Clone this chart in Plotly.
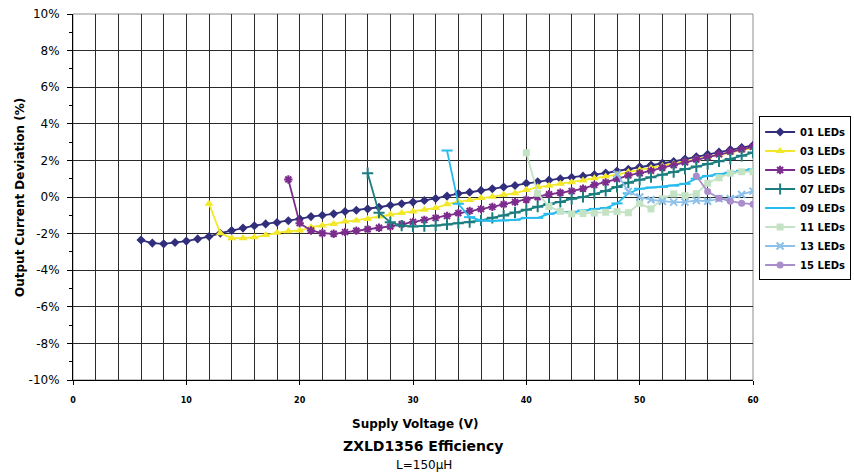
import plotly.graph_objects as go

# Output current deviation (%) versus supply voltage (V) for each LED string length
v01 = list(range(6, 61))
dev01 = [-2.35, -2.52, -2.56, -2.49, -2.41, -2.29, -2.16, -1.98, -1.83, -1.70,
         -1.57, -1.47, -1.39, -1.30, -1.19, -1.07, -1.00, -0.92, -0.79, -0.72,
         -0.65, -0.56, -0.45, -0.37, -0.28, -0.19, -0.08, 0.05, 0.19, 0.26,
         0.36, 0.45, 0.55, 0.63, 0.75, 0.83, 0.92, 1.00, 1.07, 1.14,
         1.22, 1.31, 1.42, 1.52, 1.65, 1.75, 1.85, 1.94, 2.07, 2.20,
         2.33, 2.46, 2.59, 2.70, 2.82]

v03 = list(range(12, 61))
dev03 = [-0.37, -1.98, -2.25, -2.25, -2.20, -2.07, -1.96, -1.87, -1.83, -1.65,
         -1.56, -1.47, -1.34, -1.28, -1.20, -1.07, -0.96, -0.88, -0.79, -0.70,
         -0.60, -0.40, -0.25, -0.17, -0.06, 0.02, 0.12, 0.21, 0.38, 0.54,
         0.62, 0.72, 0.80, 0.90, 1.02, 1.12, 1.22, 1.36, 1.48, 1.58,
         1.70, 1.80, 1.95, 2.08, 2.18, 2.30, 2.43, 2.56, 2.68]

v05 = list(range(19, 61))
dev05 = [0.96, -1.43, -1.83, -1.98, -2.01, -1.92, -1.84, -1.76, -1.68, -1.61,
         -1.49, -1.36, -1.25, -1.14, -1.04, -0.88, -0.76, -0.66, -0.54, -0.40,
         -0.27, -0.15, -0.01, 0.15, 0.23, 0.32, 0.45, 0.66, 0.80, 0.98,
         1.18, 1.30, 1.43, 1.60, 1.74, 1.90, 2.05, 2.18, 2.33, 2.48,
         2.60, 2.74]

v07 = list(range(26, 61))
dev07 = [1.30, -0.86, -1.38, -1.56, -1.61, -1.59, -1.56, -1.50, -1.43, -1.38,
         -1.28, -1.14, -1.01, -0.85, -0.70, -0.53, -0.38, -0.27, -0.10, 0.00,
         0.17, 0.33, 0.55, 0.78, 0.94, 1.08, 1.21, 1.36, 1.53, 1.66,
         1.80, 1.95, 2.08, 2.25, 2.43]

v09 = list(range(33, 61))
dev09 = [2.54, -0.37, -1.10, -1.28, -1.30, -1.28, -1.25, -1.14, -1.14, -0.92,
         -0.83, -0.83, -0.74, -0.65, -0.60, -0.35, 0.20, 0.45, 0.52, 0.55,
         0.62, 0.72, 1.00, 1.15, 1.25, 1.33, 1.43, 1.52]

v11 = list(range(40, 61))
dev11 = [2.42, 0.20, -0.52, -0.78, -0.92, -0.90, -0.88, -0.83, -0.80, -0.86,
         -0.35, -0.65, -0.10, 0.17, 0.07, 0.18, 0.75, 1.05, 1.30, 1.38,
         1.38]

v13 = list(range(48, 61))
dev13 = [1.25, 0.30, 0.00, -0.15, -0.23, -0.28, -0.28, -0.19, -0.23, -0.10,
         -0.10, 0.14, 0.32]

v15 = list(range(55, 61))
dev15 = [1.15, 0.30, -0.07, -0.23, -0.34, -0.39]

series_names = ["01 LEDs", "03 LEDs", "05 LEDs", "07 LEDs",
                "09 LEDs", "11 LEDs", "13 LEDs", "15 LEDs"]

y_ticks = list(range(-10, 11, 2))
x_ticks = list(range(0, 61, 10))

styles = [
    dict(color="#312E7C", symbol="diamond", size=7),
    dict(color="#F2E829", symbol="triangle-up", size=8),
    dict(color="#7B2C8C", symbol="asterisk", size=7),
    dict(color="#1C7D80", symbol="cross-thin", size=8),
    dict(color="#27BBEE", symbol="line-ew", size=8),
    dict(color="#C4E3C4", symbol="square", size=7),
    dict(color="#8DC1EA", symbol="x-thin", size=7),
    dict(color="#A98ECB", symbol="circle", size=7),
]

data = [(v01, dev01), (v03, dev03), (v05, dev05), (v07, dev07),
        (v09, dev09), (v11, dev11), (v13, dev13), (v15, dev15)]

fig = go.Figure()
for name, (xv, yv), st in zip(series_names, data, styles):
    open_sym = st["symbol"] in ("asterisk", "cross-thin", "line-ew", "x-thin")
    fig.add_trace(go.Scatter(
        x=xv, y=yv, name=name, mode="lines+markers",
        line=dict(color=st["color"], width=1.8),
        marker=dict(symbol=st["symbol"], size=st["size"], color=st["color"],
                    line=dict(color=st["color"], width=2 if open_sym else 0)),
    ))

font_family = "DejaVu Sans"

fig.update_layout(
    width=854, height=476,
    margin=dict(l=73, r=101, t=14, b=96, autoexpand=False),
    paper_bgcolor="white", plot_bgcolor="white",
    font=dict(family=font_family, color="black"),
    showlegend=True,
    legend=dict(
        x=1.009, xanchor="left", y=0.72, yanchor="top",
        bgcolor="white", bordercolor="black", borderwidth=1,
        font=dict(family=font_family, size=10, weight="bold", color="black"),
        tracegroupgap=0, itemwidth=30,
    ),
    xaxis=dict(
        range=[0, 60], tickvals=x_ticks, ticktext=[str(t) for t in x_ticks],
        showgrid=True, gridcolor="#2a2a2a", gridwidth=1,
        minor=dict(dtick=2, showgrid=True, gridcolor="#2a2a2a", gridwidth=1),
        showline=True, linecolor="black", linewidth=1,
        ticks="outside", ticklen=4, tickcolor="black",
        tickfont=dict(family=font_family, size=8, weight="bold"),
        ticklabelstandoff=8, zeroline=False,
    ),
    yaxis=dict(
        range=[-10, 10], tickvals=y_ticks,
        ticktext=[f"{t}%" for t in y_ticks],
        showgrid=True, gridcolor="#2a2a2a", gridwidth=1,
        showline=True, linecolor="black", linewidth=1,
        ticks="outside", ticklen=5, tickcolor="black",
        minor=dict(dtick=1, ticks="outside", ticklen=3, tickcolor="black",
                   showgrid=False),
        tickfont=dict(family=font_family, size=12),
        ticklabelstandoff=5, zeroline=False,
    ),
    shapes=[dict(type="rect", xref="paper", yref="paper", x0=0, x1=1, y0=0, y1=1,
                 line=dict(color="#8c8c8c", width=1), layer="below")],
    annotations=[
        dict(text="Output Current Deviation (%)", textangle=-90,
             xref="paper", yref="paper", x=-0.078, y=0.5,
             xanchor="center", yanchor="middle", showarrow=False,
             font=dict(family=font_family, size=12, weight="bold")),
        dict(text="Supply Voltage (V)", xref="paper", yref="paper",
             x=0.503, y=-0.119, xanchor="center", yanchor="middle",
             showarrow=False,
             font=dict(family=font_family, size=12, weight="bold")),
        dict(text="ZXLD1356 Efficiency", xref="paper", yref="paper",
             x=0.516, y=-0.179, xanchor="center", yanchor="middle",
             showarrow=False,
             font=dict(family=font_family, size=14, weight="bold")),
        dict(text="L=150µH", xref="paper", yref="paper",
             x=0.516, y=-0.231, xanchor="center", yanchor="middle",
             showarrow=False,
             font=dict(family=font_family, size=12)),
    ],
)

fig.write_html("out.html")
